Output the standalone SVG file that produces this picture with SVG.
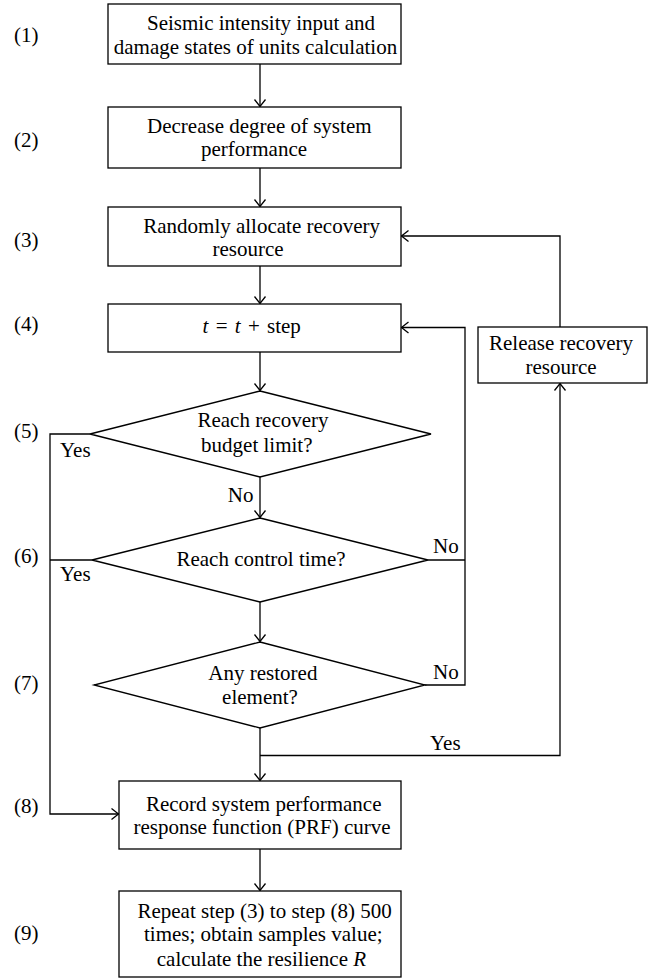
<svg xmlns="http://www.w3.org/2000/svg" width="654" height="979" viewBox="0 0 654 979" font-family="'Liberation Serif', 'Times New Roman', Tinos, 'Noto Serif', 'DejaVu Serif', serif">
<defs>
<style>
text{font-family:"Liberation Serif","Times New Roman",Tinos,"Noto Serif","DejaVu Serif",serif;font-size:21px;fill:#000}
.c{text-anchor:middle}
.n{fill:#fff;stroke:#000;stroke-width:1.3}
.e{fill:none;stroke:#000;stroke-width:1.3}
</style>
<marker id="ah" markerUnits="userSpaceOnUse" markerWidth="16" markerHeight="16" viewBox="0 0 16 16" refX="8" refY="8" orient="auto">
<path d="M1,2.5 L8,8 L1,13.5" fill="none" stroke="#000" stroke-width="1.3"/>
</marker>
</defs>
<rect width="654" height="979" fill="#fff"/>
<g id="step-labels">
<text x="14" y="42">(1)</text>
<text x="14" y="147">(2)</text>
<text x="14" y="247">(3)</text>
<text x="14" y="331">(4)</text>
<text x="14" y="438">(5)</text>
<text x="14" y="563">(6)</text>
<text x="14" y="690">(7)</text>
<text x="14" y="813">(8)</text>
<text x="14" y="940">(9)</text>
</g>
<g id="connectors">
<path class="e" d="M260,64 V106.5" marker-end="url(#ah)"/>
<path class="e" d="M260,168 V206.5" marker-end="url(#ah)"/>
<path class="e" d="M260,266 V303.5" marker-end="url(#ah)"/>
<path class="e" d="M260,352 V390.5" marker-end="url(#ah)"/>
<path class="e" d="M260,477 V517.5" marker-end="url(#ah)"/>
<path class="e" d="M260,602 V641.5" marker-end="url(#ah)"/>
<path class="e" d="M260,728 V780.5" marker-end="url(#ah)"/>
<path class="e" d="M260,849 V890.5" marker-end="url(#ah)"/>
<path class="e" d="M90,434 H50 V814 H118.5" marker-end="url(#ah)"/>
<path class="e" d="M92,560 H50"/>
<path class="e" d="M425,685 H465 V327.5 H401.5" marker-end="url(#ah)"/>
<path class="e" d="M428,560 H465"/>
<path class="e" d="M260,755.5 H560 V383.5" marker-end="url(#ah)"/>
<path class="e" d="M560,327 V236 H401.5" marker-end="url(#ah)"/>
<text x="253.5" y="502" text-anchor="end">No</text>
<text x="433" y="553">No</text>
<text x="433" y="679">No</text>
<text x="60" y="457">Yes</text>
<text x="60" y="581">Yes</text>
<text x="430" y="750">Yes</text>
</g>
<g id="n1">
<rect class="n" x="108" y="4" width="293" height="60"/>
<text class="c" x="261" y="30">Seismic intensity input and</text>
<text class="c" x="255.5" y="54">damage states of units calculation</text>
</g>
<g id="n2">
<rect class="n" x="108" y="107" width="293" height="61"/>
<text class="c" x="259.3" y="133">Decrease degree of system</text>
<text class="c" x="254" y="156">performance</text>
</g>
<g id="n3">
<rect class="n" x="108" y="207" width="293" height="59"/>
<text class="c" x="261.6" y="232.5">Randomly allocate recovery</text>
<text class="c" x="248" y="255.5">resource</text>
</g>
<g id="n4">
<rect class="n" x="108" y="304" width="293" height="48"/>
<text class="c" x="251.7" y="333" word-spacing="2"><tspan font-style="italic">t</tspan> = <tspan font-style="italic">t</tspan> + step</text>
</g>
<g id="n-release">
<rect class="n" x="478" y="327" width="169" height="56"/>
<text class="c" x="561" y="350">Release recovery</text>
<text class="c" x="561" y="374">resource</text>
</g>
<g id="d5">
<polygon class="n" points="260,391 431,434 260,477 90,434"/>
<text class="c" x="263" y="426.5">Reach recovery</text>
<text class="c" x="256.8" y="452">budget limit?</text>
</g>
<g id="d6">
<polygon class="n" points="260,518 428,560 260,602 92,560"/>
<text class="c" x="261" y="566">Reach control time?</text>
</g>
<g id="d7">
<polygon class="n" points="260,642 425,685 260,728 94,685"/>
<text class="c" x="262.9" y="680">Any restored</text>
<text class="c" x="260" y="704">element?</text>
</g>
<g id="n8">
<rect class="n" x="119" y="781" width="282" height="68"/>
<text class="c" x="263.7" y="811">Record system performance</text>
<text class="c" x="262" y="834">response function (PRF) curve</text>
</g>
<g id="n9">
<rect class="n" x="119" y="891" width="282" height="86"/>
<text class="c" x="264.6" y="917.5">Repeat step (3) to step (8) 500</text>
<text class="c" x="263.3" y="941">times; obtain samples value;</text>
<text class="c" x="261.4" y="965.5">calculate the resilience <tspan font-style="italic">R</tspan></text>
</g>
</svg>
